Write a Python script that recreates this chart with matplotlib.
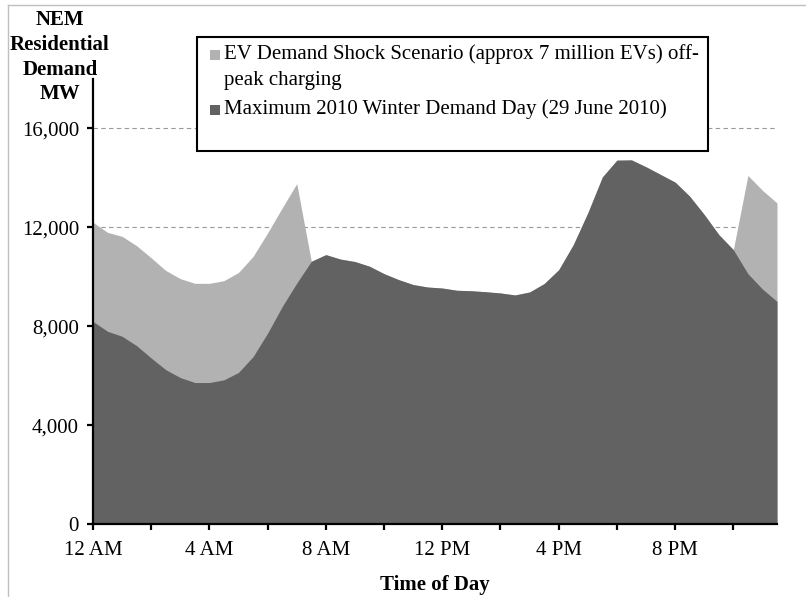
import numpy as np
import matplotlib.pyplot as plt
from matplotlib.patches import Rectangle
from matplotlib.lines import Line2D
from matplotlib.ticker import FuncFormatter

plt.rcParams['font.family'] = ['Liberation Serif', 'DejaVu Serif']

# half-hourly demand in MW, 12 AM .. 11:30 PM
winter_2010 = [8200, 7800, 7600, 7220, 6720, 6250, 5930, 5730, 5730, 5840,
               6140, 6780, 7730, 8800, 9750, 10630, 10900, 10720, 10620, 10430,
               10130, 9890, 9690, 9590, 9550, 9460, 9440, 9400, 9350, 9270,
               9390, 9730, 10290, 11300, 12590, 14040, 14720, 14730, 14450, 14140,
               13830, 13260, 12520, 11710, 11100, 10130, 9510, 9010]
ev_shock = [12210, 11800, 11640, 11260, 10770, 10260, 9930, 9740, 9740, 9850,
            10180, 10830, 11780, 12790, 13770, 10630, 10900, 10720, 10620, 10430,
            10130, 9890, 9690, 9590, 9550, 9460, 9440, 9400, 9350, 9270,
            9390, 9730, 10290, 11300, 12590, 14040, 14720, 14730, 14450, 14140,
            13830, 13260, 12520, 11710, 11100, 14100, 13500, 12990]
hour_labels = ['12 AM', '4 AM', '8 AM', '12 PM', '4 PM', '8 PM']
ev_label = 'EV Demand Shock Scenario (approx 7 million EVs) off-\npeak charging'
winter_label = 'Maximum 2010 Winter Demand Day (29 June 2010)'

light = '#b2b2b2'
dark = '#626262'

W, H = 806, 597
fig = plt.figure(figsize=(W / 100, H / 100), dpi=100)
ax = fig.add_axes([93 / W, 1 - 524.3 / H, (777 - 93) / W, (524.3 - 79) / H])

x = np.arange(len(winter_2010))
ax.fill_between(x, ev_shock, color=light, lw=0)
ax.fill_between(x, winter_2010, color=dark, lw=0)

ax.set_xlim(0, len(x) - 1)
ax.set_ylim(0, 18000)
ax.set_yticks(np.arange(0, 16001, 4000))
ax.yaxis.set_major_formatter(FuncFormatter(lambda v, p: '{:,.0f}'.format(v)))
ax.set_xticks(np.arange(0, 48, 8))
ax.set_xticklabels(hour_labels)
ax.set_xticks(np.arange(4, 48, 8), minor=True)

ax.yaxis.grid(True, ls=(0, (4, 3)), color='#999999', lw=0.8)
ax.set_axisbelow(True)

for s in ['top', 'right']:
    ax.spines[s].set_visible(False)
for s in ['left', 'bottom']:
    ax.spines[s].set_linewidth(1.6)
ax.tick_params(which='both', direction='out', length=4, width=1.6, labelsize=15)
ax.tick_params(axis='x', pad=8)
ax.tick_params(axis='y', pad=6)

fig.text(60 / W, 1 - 10 / H, 'NEM\nResidential\nDemand\nMW', ha='center', va='top',
         multialignment='center', fontsize=15, fontweight='bold', linespacing=1.32)
fig.text(435 / W, 1 - 585 / H, 'Time of Day', ha='center', va='center',
         fontsize=15, fontweight='bold')

# legend box
fig.add_artist(Rectangle((197 / W, 1 - 151 / H), (708 - 197) / W, (151 - 37) / H,
                         transform=fig.transFigure, fill=True, facecolor='white',
                         edgecolor='black', lw=1.5))
for yc, col, lab in [(55, light, ev_label), (110, dark, winter_label)]:
    fig.add_artist(Rectangle((210 / W, 1 - (yc + 5) / H), 10 / W, 10 / H,
                             transform=fig.transFigure, color=col, lw=0))
    fig.text(224 / W, 1 - (yc - 11) / H, lab, ha='left', va='top', fontsize=15,
             linespacing=1.5)

# outer chart border
fig.add_artist(Line2D([8 / W, 8 / W], [0, 1 - 5 / H], transform=fig.transFigure,
                      color='#bfbfbf', lw=1))
fig.add_artist(Line2D([8 / W, 1], [1 - 5 / H, 1 - 5 / H], transform=fig.transFigure,
                      color='#bfbfbf', lw=1))

fig.savefig('out.png', dpi=100)
